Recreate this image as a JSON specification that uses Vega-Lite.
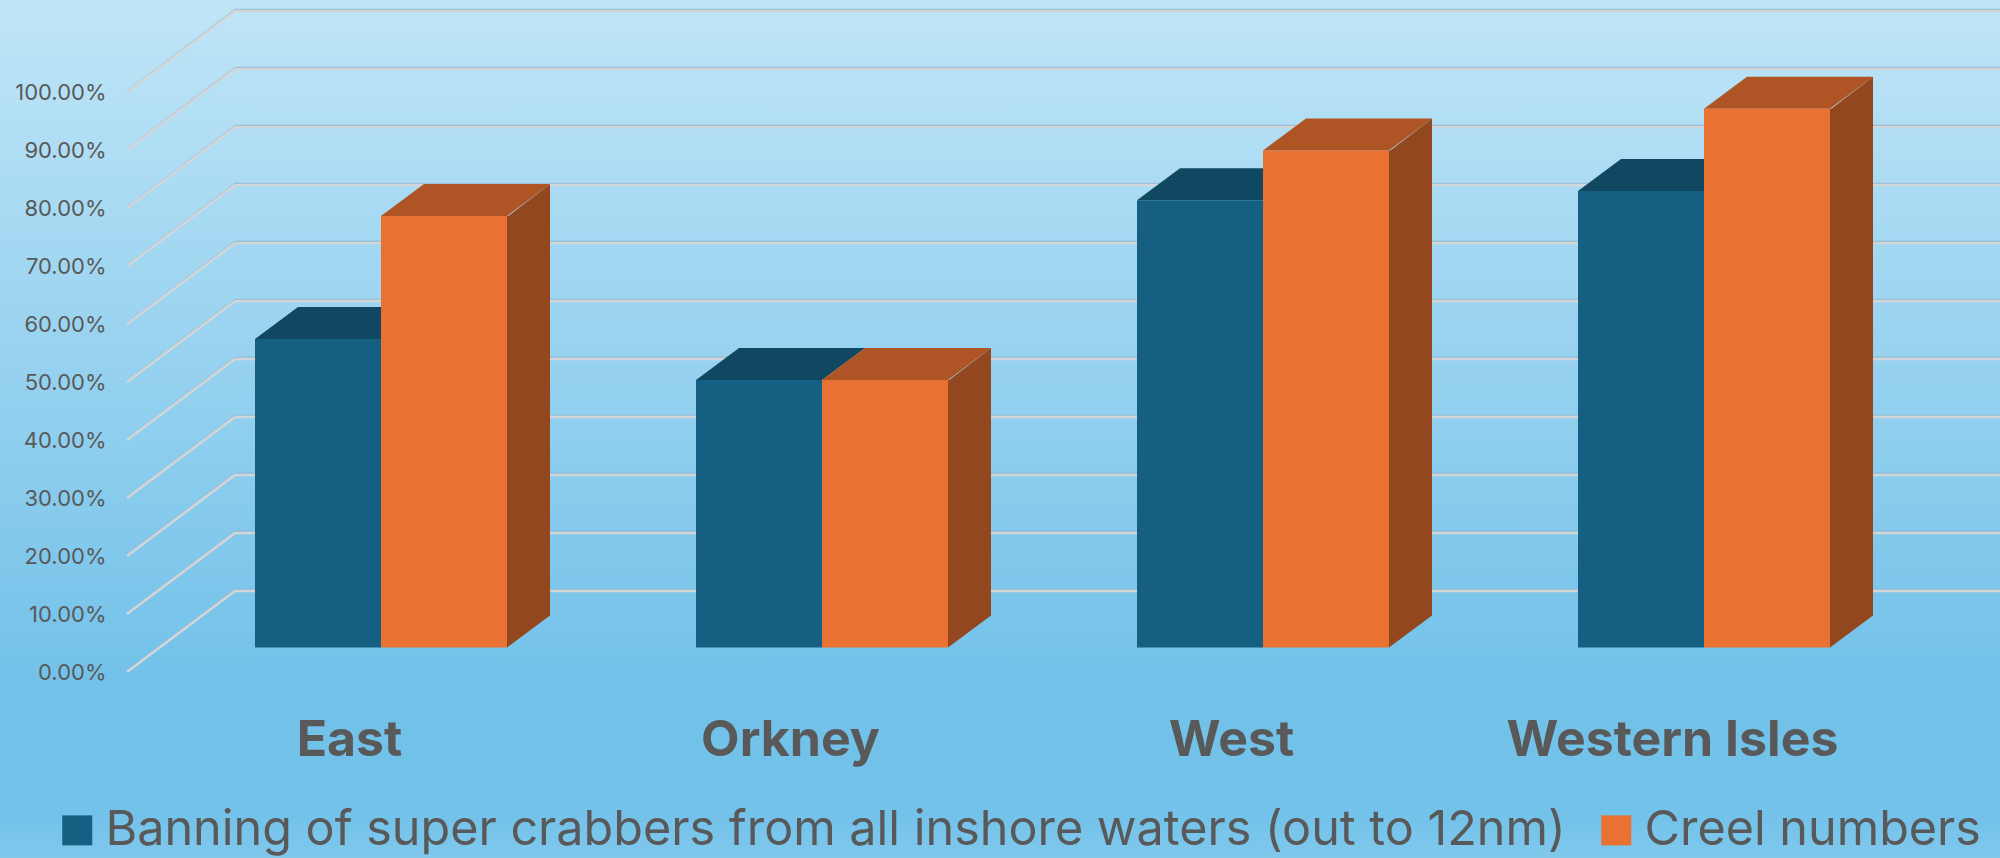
{
"$schema":"https://vega.github.io/schema/vega-lite/v6.json",
"width":2000,"height":858,"padding":0,"autosize":{"type":"none"},
"background":"#9fd6f1",
"config":{"view":{"stroke":null,"fill":{"gradient":"linear","x1":0,"y1":0,"x2":0,"y2":1,"stops":[{"offset":0,"color":"#c0e5f7"},{"offset":0.8,"color":"#72c1e9"},{"offset":0.95,"color":"#73c2ea"},{"offset":1,"color":"#80c8ec"}]}}},
"datasets":{
"bars":[
{"region":"East","series":"Banning of super crabbers from all inshore waters (out to 12nm)","share":0.532},
{"region":"East","series":"Creel numbers","share":0.744},
{"region":"Orkney","series":"Banning of super crabbers from all inshore waters (out to 12nm)","share":0.461},
{"region":"Orkney","series":"Creel numbers","share":0.461},
{"region":"West","series":"Banning of super crabbers from all inshore waters (out to 12nm)","share":0.771},
{"region":"West","series":"Creel numbers","share":0.857},
{"region":"Western Isles","series":"Banning of super crabbers from all inshore waters (out to 12nm)","share":0.787},
{"region":"Western Isles","series":"Creel numbers","share":0.929}
],
"ticks":[{"tick":0},{"tick":0.1},{"tick":0.2},{"tick":0.3},{"tick":0.4},{"tick":0.5},{"tick":0.6},{"tick":0.7},{"tick":0.8},{"tick":0.9},{"tick":1}]
},
"layer":[
{"data":{"name":"ticks"},"mark":{"type":"rule","x":235,"x2":2000,"yOffset":-58,"stroke":"#8fb9d2","strokeWidth":1.5},
 "encoding":{"y":{"field":"tick","type":"quantitative","scale":{"domain":[0,1],"range":[647.5,67.5]},
   "axis":{"title":null,"orient":"left","offset":-106,"labelPadding":0,"labelOffset":25,"values":[0,0.1,0.2,0.3,0.4,0.5,0.6,0.7,0.8,0.9,1],"format":".2%","ticks":false,"domain":false,"grid":false,"labelFont":"Inter","labelFontSize":22,"labelColor":"#595959"}}}},
{"data":{"name":"ticks"},"mark":{"type":"rule","x":235,"x2":2000,"yOffset":-56.5,"stroke":"#d3d6d8","strokeWidth":2.5},
 "encoding":{"y":{"field":"tick","type":"quantitative","axis":{"title":null}}}},
{"data":{"name":"ticks"},"mark":{"type":"point","x":127,"shape":"M0,23.5L108,-58","size":4,"filled":false,"opacity":1,"stroke":"#9dbdd0","strokeWidth":1.5},
 "encoding":{"y":{"field":"tick","type":"quantitative","axis":{"title":null}}}},
{"data":{"name":"ticks"},"mark":{"type":"point","x":127,"shape":"M0,24.5L108,-56.5","size":4,"filled":false,"opacity":1,"stroke":"#d3d6d8","strokeWidth":2.5},
 "encoding":{"y":{"field":"tick","type":"quantitative","axis":{"title":null}}}},
{"data":{"name":"bars"},"transform":[{"filter":"datum.series !== 'Creel numbers'"}],
 "mark":{"type":"point","shape":"M-63,0L-20,-32L106,-32L63,0Z","size":4,"filled":true,"opacity":1,"fill":"#104861","strokeWidth":0},
 "encoding":{"x":{"field":"region","type":"nominal","scale":{"range":[160.5,1924.5],"paddingInner":0.4286,"paddingOuter":0.2143},
   "axis":{"title":null,"orient":"bottom","offset":-103,"labelPadding":0,"labelBaseline":"alphabetic","labelOffset":-31.5,"labelAngle":0,"labelLimit":600,"ticks":false,"domain":false,"labelFont":"Inter","labelFontWeight":"bold","labelFontSize":50,"labelColor":"#595959"}},"xOffset":{"field":"series"},"y":{"field":"share","type":"quantitative","axis":{"title":null}}}},
{"data":{"name":"bars"},"transform":[{"filter":"datum.series === 'Creel numbers'"}],
 "mark":{"type":"point","shape":"M-63,0L-20,-32L106,-32L63,0Z","size":4,"filled":true,"opacity":1,"fill":"#AF5525","strokeWidth":0},
 "encoding":{"x":{"field":"region","type":"nominal","axis":{"title":null}},"xOffset":{"field":"series"},"y":{"field":"share","type":"quantitative","axis":{"title":null}}}},
{"data":{"name":"bars"},"transform":[{"filter":"datum.series === 'Creel numbers'"}],
 "mark":{"type":"rule","xOffset":147.5,"y2Offset":-32,"stroke":"#93471F","strokeWidth":43},
 "encoding":{"x":{"field":"region","type":"nominal","axis":{"title":null}},"y":{"field":"share","type":"quantitative","axis":{"title":null}},"y2":{"datum":0}}},
{"data":{"name":"bars"},"transform":[{"filter":"datum.series === 'Creel numbers'"}],
 "mark":{"type":"point","shape":"M126,1L169,-32L169,1Z","size":4,"filled":true,"opacity":1,"fill":"#93471F","strokeWidth":0},
 "encoding":{"x":{"field":"region","type":"nominal","axis":{"title":null}},"y":{"field":"share","type":"quantitative","axis":{"title":null}}}},
{"data":{"name":"bars"},"transform":[{"filter":"datum.series === 'Creel numbers'"}],
 "mark":{"type":"point","shape":"M126,0L126,-33L169,-33L169,-32Z","size":4,"filled":true,"opacity":1,"fill":"#93471F","strokeWidth":0},
 "encoding":{"x":{"field":"region","type":"nominal","axis":{"title":null}},"y":{"datum":0,"type":"quantitative","axis":{"title":null}}}},
{"data":{"name":"bars"},
 "mark":{"type":"bar"},
 "encoding":{
  "x":{"field":"region","type":"nominal","axis":{"title":null}},
  "xOffset":{"field":"series"},
  "y":{"field":"share","type":"quantitative","axis":{"title":null}},
  "y2":{"datum":0},
  "color":{"field":"series","type":"nominal","scale":{"domain":["Banning of super crabbers from all inshore waters (out to 12nm)","Creel numbers"],"range":["#156082","#E97132"]},
   "legend":{"title":null,"orient":"none","legendX":53,"legendY":806,"padding":0,"direction":"horizontal","columns":2,"symbolType":"square","symbolSize":900,"symbolStrokeWidth":0,"labelFont":"Inter","labelFontSize":48.5,"labelColor":"#595959","labelOffset":4,"columnPadding":26,"labelLimit":1600}}
 }}
]
}
